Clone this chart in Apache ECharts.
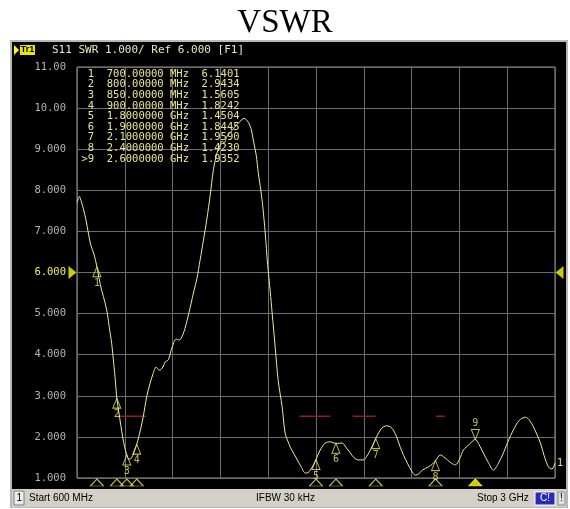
<!DOCTYPE html>
<html>
<head>
<meta charset="utf-8">
<title>VSWR</title>
<script src="https://cdn.jsdelivr.net/npm/echarts@6/dist/echarts.min.js"></script>
<style>
  html, body { margin: 0; padding: 0; background: #fff; }
  #chart { width: 570px; height: 509px; }
</style>
</head>
<body>
<div id="chart"></div>
<script>
// S11 SWR trace, frequency in MHz
var freqs = [600, 612, 622, 632, 645, 657, 669, 685, 700, 711, 724, 741, 752, 762, 774, 782, 791,
  800, 810, 820, 830, 840, 850, 860, 870, 880, 890, 900, 910, 920, 933, 950, 967, 983, 997,
  1014, 1031, 1042, 1059, 1076, 1098, 1114, 1131, 1151, 1171, 1188, 1202, 1218, 1235, 1252,
  1268, 1285, 1302, 1319, 1329, 1339, 1352, 1377, 1403, 1428, 1439, 1449, 1461, 1474, 1486,
  1500, 1511, 1523, 1533, 1545, 1557, 1570, 1580, 1595, 1610, 1630, 1645, 1660, 1671, 1690,
  1706, 1725, 1746, 1760, 1771, 1785, 1800, 1821, 1846, 1872, 1900, 1932, 1950, 1972, 1990,
  2012, 2037, 2055, 2073, 2100, 2123, 2140, 2158, 2175, 2188, 2205, 2223, 2240, 2259, 2280,
  2299, 2315, 2334, 2364, 2385, 2400, 2424, 2440, 2460, 2480, 2500, 2520, 2540, 2570, 2600,
  2620, 2640, 2665, 2691, 2715, 2741, 2765, 2791, 2820, 2852, 2870, 2892, 2910, 2927, 2945,
  2967, 2985, 3000]
var swr = [7.70, 7.85, 7.72, 7.55, 7.28, 6.96, 6.67, 6.45, 6.14, 5.85, 5.57, 5.26, 5.01, 4.67, 4.28, 3.90, 3.46,
  2.94, 2.60, 2.28, 1.98, 1.74, 1.56, 1.46, 1.47, 1.55, 1.68, 1.82, 2.00, 2.20, 2.50, 2.98, 3.31, 3.55, 3.70,
  3.62, 3.70, 3.82, 3.88, 4.16, 4.38, 4.36, 4.48, 4.80, 5.21, 5.57, 5.85, 6.30, 6.79, 7.30,
  7.85, 8.50, 8.90, 9.10, 9.20, 9.15, 9.30, 9.45, 9.60, 9.72, 9.75, 9.72, 9.65, 9.50, 9.20,
  8.85, 8.40, 8.00, 7.60, 6.96, 6.20, 5.55, 5.00, 4.19, 3.38, 2.73, 2.09, 1.88, 1.75, 1.58,
  1.44, 1.28, 1.12, 1.13, 1.19, 1.30, 1.45, 1.68, 1.85, 1.88, 1.84, 1.85, 1.75, 1.61, 1.50,
  1.44, 1.44, 1.53, 1.68, 1.96, 2.17, 2.25, 2.27, 2.24, 2.17, 2.00, 1.75, 1.55, 1.36, 1.17,
  1.07, 1.10, 1.19, 1.27, 1.34, 1.42, 1.56, 1.52, 1.44, 1.36, 1.32, 1.45, 1.68, 1.82, 1.94,
  1.80, 1.61, 1.38, 1.19, 1.35, 1.61, 1.90, 2.17, 2.40, 2.48, 2.42, 2.24, 2.05, 1.85, 1.55,
  1.27, 1.22, 1.36]

// markers
var markerNums = [1, 2, 3, 4, 5, 6, 7, 8, 9]
var markerFreqs = [700, 800, 850, 900, 1800, 1900, 2100, 2400, 2600]
var markerSwr = [6.1401, 2.9434, 1.5605, 1.8242, 1.4504, 1.8445, 1.9590, 1.4230, 1.9352]
var activeMarker = 9

// limit line segments (MHz) at SWR 2.5
var limitStart = [806, 1717, 1984, 2401]
var limitEnd = [947, 1873, 2099, 2447]
var limitSwr = 2.5

// axis
var startFreq = 600
var stopFreq = 3000
var freqStep = 240
var swrMin = 1
var swrMax = 11
var swrStep = 1
var refLevel = 6

var YELLOW = '#e8e86a'
var TRACE = '#ecec9c'
var GRID = '#6c6c6c'
var MONO = 'DejaVu Sans Mono'

var UP = 'path://M5,0 L10,10 L0,10 Z'
var DOWN = 'path://M0,0 L10,0 L5,10 Z'

function fmtFreq (f) {
  if (f < 1000) return f.toFixed(5) + ' MHz'
  return (f / 1000).toFixed(7) + ' GHz'
}

var chart = echarts.init(document.getElementById('chart'))

var trace = freqs.map(function (f, i) { return [f, swr[i]] })

// marker table rows
var tableRows = markerNums.map(function (n, i) {
  var num = (n === activeMarker ? '>' : ' ') + n
  return {
    type: 'text',
    z: 100,
    x: 81.5,
    y: 74 + i * 10.6,
    style: {
      text: num + '  ' + fmtFreq(markerFreqs[i]) + '  ' + markerSwr[i].toFixed(4),
      fill: '#e6e690',
      font: '10.5px "' + MONO + '"',
      textVerticalAlign: 'middle'
    }
  }
})

var graphic = [
  // instrument screen
  { type: 'rect', z: -100, shape: { x: 10, y: 40, width: 558, height: 468 }, style: { fill: '#b8b8b8' } },
  { type: 'rect', z: -99, shape: { x: 12, y: 42, width: 554, height: 447 }, style: { fill: '#000' } },
  { type: 'rect', z: -99, shape: { x: 12, y: 489, width: 554, height: 18 }, style: { fill: '#d4d0c8' } },
  // header
  { type: 'polygon', z: 100, shape: { points: [[14, 45], [19, 50], [14, 55]] }, style: { fill: '#ffff00' } },
  { type: 'rect', z: 100, shape: { x: 20, y: 45, width: 15, height: 10 }, style: { fill: '#e8e800' } },
  { type: 'text', z: 101, x: 27.5, y: 50, style: { text: 'Tr1', fill: '#000', font: 'bold 9px "Liberation Sans"', textAlign: 'center', textVerticalAlign: 'middle' } },
  { type: 'text', z: 100, x: 52, y: 50, style: { text: 'S11 SWR ' + swrStep.toFixed(3) + '/ Ref ' + refLevel.toFixed(3) + ' [F1]', fill: '#e8e8c0', font: '11px "' + MONO + '"', textVerticalAlign: 'middle' } },
  // status bar
  { type: 'rect', z: 100, shape: { x: 14, y: 491, width: 10, height: 14 }, style: { fill: '#ececec', stroke: '#808080', lineWidth: 1 } },
  { type: 'text', z: 101, x: 16.5, y: 498, style: { text: '1', fill: '#000', font: '10px "Liberation Sans"', textVerticalAlign: 'middle' } },
  { type: 'text', z: 100, x: 29, y: 498, style: { text: 'Start 600 MHz', fill: '#000', font: '10px "Liberation Sans"', textVerticalAlign: 'middle' } },
  { type: 'text', z: 100, x: 256, y: 498, style: { text: 'IFBW 30 kHz', fill: '#000', font: '10px "Liberation Sans"', textVerticalAlign: 'middle' } },
  { type: 'text', z: 100, x: 477, y: 498, style: { text: 'Stop 3 GHz', fill: '#000', font: '10px "Liberation Sans"', textVerticalAlign: 'middle' } },
  { type: 'rect', z: 100, shape: { x: 535, y: 492, width: 20, height: 13 }, style: { fill: '#2a2ab8', stroke: '#ffffff', lineWidth: 1 } },
  { type: 'text', z: 101, x: 545, y: 498.5, style: { text: 'C!', fill: '#fff', font: '10px "Liberation Sans"', textAlign: 'center', textVerticalAlign: 'middle' } },
  { type: 'rect', z: 100, shape: { x: 558, y: 492, width: 7, height: 13 }, style: { fill: '#e0e0e0', stroke: '#909090', lineWidth: 1 } },
  { type: 'text', z: 101, x: 561.5, y: 498.5, style: { text: '!', fill: '#000', font: '10px "Liberation Sans"', textAlign: 'center', textVerticalAlign: 'middle' } }
].concat(tableRows)

var series = [{
  type: 'line',
  data: trace,
  showSymbol: false,
  smooth: 0.3,
  lineStyle: { color: TRACE, width: 1 },
  endLabel: { show: true, formatter: '1', color: YELLOW, fontFamily: MONO, fontSize: 10, distance: 2 },
  z: 5
}]

limitStart.forEach(function (s, i) {
  series.push({
    type: 'line',
    data: [[s, limitSwr], [limitEnd[i], limitSwr]],
    showSymbol: false,
    lineStyle: { color: '#8c1f1f', width: 1.5 },
    z: 3
  })
})

// marker symbols on the trace
series.push({
  type: 'scatter',
  clip: false,
  z: 6,
  data: markerNums.map(function (n, i) {
    var active = n === activeMarker
    return {
      value: [markerFreqs[i], markerSwr[i]],
      symbol: active ? DOWN : UP,
      symbolOffset: [0, active ? -5 : 5],
      label: { position: active ? 'top' : 'bottom', formatter: String(n) }
    }
  }),
  symbolSize: [8, 10],
  itemStyle: { color: 'rgba(0,0,0,0)', borderColor: YELLOW, borderWidth: 1 },
  label: { show: true, color: YELLOW, fontFamily: MONO, fontSize: 10, distance: 1 }
})

// marker ticks under the grid
series.push({
  type: 'scatter',
  clip: false,
  z: 6,
  data: markerNums.map(function (n, i) {
    var active = n === activeMarker
    return {
      value: [markerFreqs[i], swrMin],
      itemStyle: { color: active ? '#ffff00' : 'rgba(0,0,0,0)', borderColor: active ? '#ffff00' : YELLOW }
    }
  }),
  symbol: UP,
  symbolSize: [13, 7],
  symbolOffset: [0, 4.5],
  itemStyle: { borderWidth: 1 }
})

// reference level arrows
series.push({
  type: 'scatter',
  clip: false,
  z: 6,
  data: [
    { value: [startFreq, refLevel], symbol: 'path://M0,0 L10,5 L0,10 Z', symbolOffset: [-4.5, 0] },
    { value: [stopFreq, refLevel], symbol: 'path://M10,0 L0,5 L10,10 Z', symbolOffset: [4.5, 0] }
  ],
  symbolSize: [8, 13],
  itemStyle: { color: '#ffff00' }
})

var option = {
  animation: false,
  title: {
    text: 'VSWR',
    left: 'center',
    top: 2,
    textStyle: { fontFamily: 'Liberation Serif', fontSize: 33, fontWeight: 'normal', color: '#000' }
  },
  graphic: graphic,
  grid: {
    left: 77,
    top: 67,
    width: 478,
    height: 411,
    show: true,
    borderColor: '#9a9a9a',
    borderWidth: 1
  },
  xAxis: {
    type: 'value',
    min: startFreq,
    max: stopFreq,
    interval: freqStep,
    axisLine: { show: false },
    axisTick: { show: false },
    axisLabel: { show: false },
    splitLine: { lineStyle: { color: GRID, width: 1 } }
  },
  yAxis: {
    type: 'value',
    min: swrMin,
    max: swrMax,
    interval: swrStep,
    axisLine: { show: false },
    axisTick: { show: false },
    axisLabel: {
      margin: 11,
      fontFamily: MONO,
      fontSize: 10.5,
      color: function (v) { return Number(v) === refLevel ? '#f0f060' : '#b4b4b4' },
      formatter: function (v) { return v >= 10 ? v.toFixed(2) : v.toFixed(3) }
    },
    splitLine: { lineStyle: { color: GRID, width: 1 } }
  },
  series: series
}

chart.setOption(option)
</script>
</body>
</html>
